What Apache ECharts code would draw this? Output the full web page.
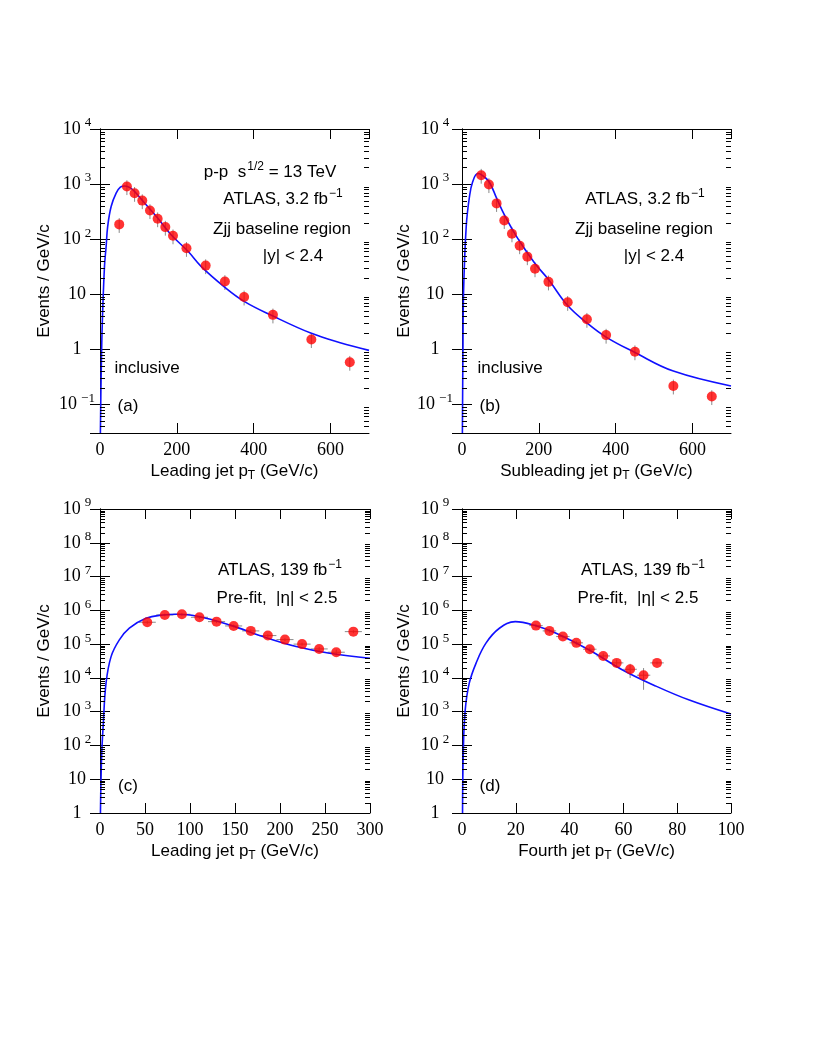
<!DOCTYPE html>
<html>
<head>
<meta charset="utf-8">
<script src="https://cdn.jsdelivr.net/npm/echarts@6/dist/echarts.min.js"></script>
<style>
  html, body { margin: 0; padding: 0; background: #fff; }
  #chart { width: 817px; height: 1058px; }
</style>
</head>
<body>
<div id="chart"></div>
<script>
// (a) leading jet, 3.2 fb-1
var aX = [50, 70, 90, 110, 130, 150, 170, 190, 225, 275, 325, 375, 450, 550, 650];
var aY = [185, 900, 680, 500, 330, 235, 165, 115, 68, 33, 17, 8.9, 4.2, 1.5, 0.58];
var aErr = [0.3, 0.3, 0.3, 0.3, 0.3, 0.3, 0.3, 0.3, 0.3, 0.3, 0.3, 0.3, 0.3, 0.3, 0.3];
var aFitX = [1, 3, 6, 11.7, 16, 20, 29, 42, 53, 65, 78, 90, 116, 150, 185, 229, 263, 325, 375, 450, 550, 625, 700];
var aFitY = [0.03, 0.33, 3, 32, 74, 170, 392, 684, 879, 920, 860, 733, 451, 241, 120, 60, 32, 13.3, 7.4, 4.0, 1.94, 1.31, 0.95];

// (b) subleading jet, 3.2 fb-1
var bX = [50, 70, 90, 110, 130, 150, 170, 190, 225, 275, 325, 375, 450, 550, 650];
var bY = [1450, 980, 445, 218, 125, 76, 48, 29, 16.7, 7.1, 3.5, 1.8, 0.9, 0.215, 0.138];
var bErr = [0.3, 0.3, 0.3, 0.3, 0.3, 0.3, 0.3, 0.3, 0.3, 0.3, 0.3, 0.3, 0.3, 0.3, 0.3];
var bFitX = [1, 2.5, 4, 11, 19.5, 28, 41, 50, 70, 90, 110, 130, 150, 190, 225, 275, 325, 375, 450, 550, 700];
var bFitY = [0.03, 1, 10.5, 170, 594, 1110, 1550, 1480, 1110, 555, 277, 154, 91, 36, 18.4, 6.2, 3.0, 1.66, 0.87, 0.40, 0.215];

// (c) leading jet, 139 fb-1
var cX = [52.5, 72, 91, 110.5, 129.5, 148.5, 167.5, 186.5, 205.5, 224.5, 243.5, 262.5, 281.5];
var cY = [444000, 731000, 764000, 623000, 463000, 345000, 246000, 179000, 136000, 100000, 72000, 57500, 234000];
var cErr = [0.1, 0.1, 0.1, 0.1, 0.1, 0.1, 0.1, 0.1, 0.1, 0.1, 0.15, 0.2, 0.1];
var cBin = 9.5;
var cFitX = [0.5, 1.8, 3.7, 6.7, 12.3, 21.5, 32.6, 51, 70, 85, 107, 144, 181, 218, 255, 300];
var cFitY = [1, 47, 457, 6970, 42600, 133000, 295000, 583000, 731000, 764000, 682000, 371000, 167000, 85000, 53700, 38000];

// (d) fourth jet, 139 fb-1
var dX = [27.5, 32.5, 37.5, 42.5, 47.5, 52.5, 57.5, 62.5, 67.5, 72.5];
var dY = [353000, 246000, 167000, 109000, 70600, 44700, 27800, 18000, 12000, 27800];
var dErr = [0.12, 0.12, 0.12, 0.15, 0.15, 0.2, 0.25, 0.45, 0.63, 0.1];
var dBin = 2.5;
var dFitX = [0.2, 0.5, 1.2, 2.7, 5.2, 8.9, 13.9, 19.8, 27.5, 35, 47.3, 59.7, 72.1, 84.5, 100];
var dFitY = [1, 74, 1130, 6970, 27000, 107000, 295000, 463000, 350000, 209000, 67000, 17200, 5700, 2200, 850];

var serif = 'Liberation Serif';
var sans = 'Liberation Sans';

var panels = [
  { grid: { left: 100, top: 129, width: 269, height: 304 }, xr: [0, 700], xi: 200, yr: [0.03, 1e4],
    name: 'Leading jet p{sub|T} (GeV/c)', hideMax: true, margin: 23, gap: 47,
    x: aX, y: aY, err: aErr, bin: 0, fx: aFitX, fy: aFitY },
  { grid: { left: 462, top: 129, width: 269, height: 304 }, xr: [0, 700], xi: 200, yr: [0.03, 1e4],
    name: 'Subleading jet p{sub|T} (GeV/c)', hideMax: true, margin: 27, gap: 49,
    x: bX, y: bY, err: bErr, bin: 0, fx: bFitX, fy: bFitY },
  { grid: { left: 100, top: 509, width: 270, height: 304 }, xr: [0, 300], xi: 50, yr: [1, 1e9],
    name: 'Leading jet p{sub|T} (GeV/c)', hideMax: false, margin: 23, gap: 47,
    x: cX, y: cY, err: cErr, bin: cBin, fx: cFitX, fy: cFitY },
  { grid: { left: 462, top: 509, width: 269, height: 304 }, xr: [0, 100], xi: 20, yr: [1, 1e9],
    name: 'Fourth jet p{sub|T} (GeV/c)', hideMax: false, margin: 27, gap: 49,
    x: dX, y: dY, err: dErr, bin: dBin, fx: dFitX, fy: dFitY }
];

function powLabel(v) {
  var l = Math.log10(v);
  var e = Math.round(l);
  if (Math.abs(l - e) > 1e-6) return '';
  if (e === 0) return '1';
  if (e === 1) return '10';
  return '{b|10}{e|' + (e < 0 ? '\u2212' + (-e) : e) + '}';
}

function minorTicks(idx, xr, yr) {
  return {
    type: 'custom', xAxisIndex: idx, yAxisIndex: idx, silent: true, clip: false, z: 6,
    data: [[xr[0], yr[0]]],
    encode: { x: 0, y: 1 },
    renderItem: function (params, api) {
      var kids = [];
      var x0 = api.coord([xr[0], yr[0]])[0];
      var x1 = api.coord([xr[1], yr[0]])[0];
      for (var k = Math.floor(Math.log10(yr[0])); k < Math.log10(yr[1]); k++) {
        for (var m = 2; m <= 9; m++) {
          var v = m * Math.pow(10, k);
          if (v <= yr[0] || v >= yr[1]) continue;
          var y = Math.round(api.coord([xr[0], v])[1]) + 0.5;
          kids.push({ type: 'line', shape: { x1: x0, y1: y, x2: x0 + 5, y2: y }, style: { stroke: '#000', lineWidth: 1 } });
          kids.push({ type: 'line', shape: { x1: x1 - 5, y1: y, x2: x1, y2: y }, style: { stroke: '#000', lineWidth: 1 } });
        }
      }
      return { type: 'group', children: kids };
    }
  };
}

function errBars(idx, p) {
  var pts = p.x.map(function (x, i) {
    return [x, p.y[i], x - p.bin, x + p.bin, p.y[i] * (1 - p.err[i]), p.y[i] * (1 + p.err[i])];
  });
  return {
    type: 'custom', xAxisIndex: idx, yAxisIndex: idx, silent: true, z: 2,
    data: pts,
    encode: { x: 0, y: 1 },
    renderItem: function (params, api) {
      var x = api.value(0), y = api.value(1);
      var v1 = api.coord([x, api.value(4)]), v2 = api.coord([x, api.value(5)]);
      var h1 = api.coord([api.value(2), y]), h2 = api.coord([api.value(3), y]);
      var st = { stroke: '#8a8a8a', lineWidth: 1 };
      return { type: 'group', children: [
        { type: 'line', shape: { x1: v1[0], y1: v1[1], x2: v2[0], y2: v2[1] }, style: st },
        { type: 'line', shape: { x1: h1[0], y1: h1[1], x2: h2[0], y2: h2[1] }, style: st }
      ] };
    }
  };
}

var grids = [], xAxes = [], yAxes = [], series = [];
var axisLine = { show: true, lineStyle: { color: '#000', width: 1 } };

panels.forEach(function (p, i) {
  grids.push(p.grid);
  xAxes[i] = {
    type: 'value', gridIndex: i, min: p.xr[0], max: p.xr[1], interval: p.xi,
    position: 'bottom', axisLine: axisLine, splitLine: { show: false },
    axisTick: { inside: true, length: 10, lineStyle: { color: '#000' } },
    axisLabel: { color: '#000', fontFamily: serif, fontSize: 18, margin: 8, showMaxLabel: !p.hideMax },
    name: p.name, nameLocation: 'middle', nameGap: 26,
    nameTextStyle: { color: '#000', fontFamily: sans, fontSize: 17,
      rich: { sub: { fontFamily: sans, fontSize: 12, lineHeight: 12, padding: [10, 0, 0, 0] } } }
  };
  xAxes[4 + i] = {
    type: 'value', gridIndex: i, min: p.xr[0], max: p.xr[1], interval: p.xi,
    position: 'top', axisLine: axisLine, splitLine: { show: false }, axisLabel: { show: false },
    axisTick: { inside: true, length: 10, lineStyle: { color: '#000' } }
  };
  yAxes[i] = {
    type: 'log', logBase: 10, gridIndex: i, min: p.yr[0], max: p.yr[1],
    position: 'left', axisLine: axisLine, splitLine: { show: false },
    axisTick: { inside: true, length: 10, lineStyle: { color: '#000' } },
    axisLabel: { color: '#000', fontFamily: serif, fontSize: 18, align: 'center', margin: p.margin,
      formatter: powLabel,
      rich: {
        b: { fontFamily: serif, fontSize: 18, lineHeight: 18 },
        e: { fontFamily: serif, fontSize: 13, lineHeight: 13, padding: [0, 0, 12, 4] }
      } },
    name: 'Events / GeV/c', nameLocation: 'middle', nameGap: p.gap,
    nameTextStyle: { color: '#000', fontFamily: sans, fontSize: 17 }
  };
  yAxes[4 + i] = {
    type: 'log', logBase: 10, gridIndex: i, min: p.yr[0], max: p.yr[1],
    position: 'right', axisLine: axisLine, splitLine: { show: false }, axisLabel: { show: false },
    axisTick: { inside: true, length: 10, lineStyle: { color: '#000' } }
  };

  series.push({
    type: 'line', xAxisIndex: i, yAxisIndex: i, smooth: 0.4, showSymbol: false, silent: true, z: 3,
    data: p.fx.map(function (x, k) { return [x, p.fy[k]]; }),
    lineStyle: { color: '#1010ff', width: 1.6 }
  });
  series.push(errBars(i, p));
  series.push({
    type: 'scatter', xAxisIndex: i, yAxisIndex: i, symbol: 'circle', symbolSize: 10, z: 4,
    data: p.x.map(function (x, k) { return [x, p.y[k]]; }),
    itemStyle: { color: '#ff0000' }
  });
  series.push(minorTicks(i, p.xr, p.yr));
});

var txtRich = {
  m: { fontFamily: sans, fontSize: 17, lineHeight: 17, fill: '#000' },
  s: { fontFamily: sans, fontSize: 12, lineHeight: 12, padding: [0, 0, 10, 1] }
};
function label(x, y, text) {
  return { type: 'text', x: x, y: y, silent: true, z: 10,
    style: { text: text, rich: txtRich, fill: '#000', font: '17px ' + sans, align: 'center', verticalAlign: 'middle' } };
}

var graphics = [
  label(270, 172, '{m|p-p  s}{s|1/2}{m| = 13 TeV}'),
  label(283, 199, '{m|ATLAS, 3.2 fb}{s|\u22121}'),
  label(282, 229, '{m|Zjj baseline region}'),
  label(293, 256, '{m||y| < 2.4}'),
  label(147, 368, '{m|inclusive}'),
  label(128, 406, '{m|(a)}'),
  label(645, 199, '{m|ATLAS, 3.2 fb}{s|\u22121}'),
  label(644, 229, '{m|Zjj baseline region}'),
  label(654, 256, '{m||y| < 2.4}'),
  label(510, 368, '{m|inclusive}'),
  label(490, 406, '{m|(b)}'),
  label(280, 570, '{m|ATLAS, 139 fb}{s|\u22121}'),
  label(277, 598, '{m|Pre-fit,  |\u03b7| < 2.5}'),
  label(128, 786, '{m|(c)}'),
  label(643, 570, '{m|ATLAS, 139 fb}{s|\u22121}'),
  label(638, 598, '{m|Pre-fit,  |\u03b7| < 2.5}'),
  label(490, 786, '{m|(d)}')
];

var chart = echarts.init(document.getElementById('chart'), null, { renderer: 'canvas' });
chart.setOption({
  backgroundColor: '#fff',
  animation: false,
  grid: grids,
  xAxis: xAxes,
  yAxis: yAxes,
  series: series,
  graphic: graphics
});
</script>
</body>
</html>
